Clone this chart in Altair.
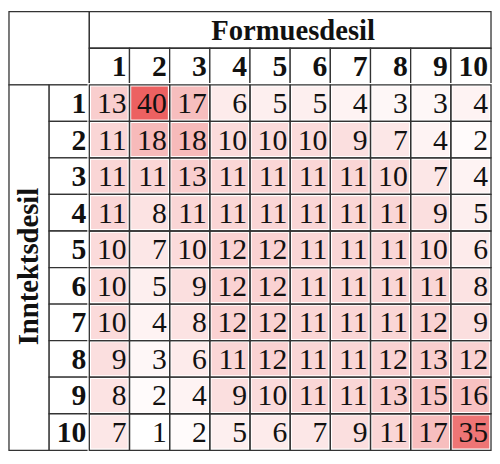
import altair as alt
import pandas as pd

col_labels = ["1", "2", "3", "4", "5", "6", "7", "8", "9", "10"]
row_labels = ["1", "2", "3", "4", "5", "6", "7", "8", "9", "10"]
col_title = "Formuesdesil"
row_title = "Inntektsdesil"

row1 = [13, 40, 17, 6, 5, 5, 4, 3, 3, 4]
row2 = [11, 18, 18, 10, 10, 10, 9, 7, 4, 2]
row3 = [11, 11, 13, 11, 11, 11, 11, 10, 7, 4]
row4 = [11, 8, 11, 11, 11, 11, 11, 11, 9, 5]
row5 = [10, 7, 10, 12, 12, 11, 11, 11, 10, 6]
row6 = [10, 5, 9, 12, 12, 11, 11, 11, 11, 8]
row7 = [10, 4, 8, 12, 12, 11, 11, 11, 12, 9]
row8 = [9, 3, 6, 11, 12, 11, 11, 12, 13, 12]
row9 = [8, 2, 4, 9, 10, 11, 11, 13, 15, 16]
row10 = [7, 1, 2, 5, 6, 7, 9, 11, 17, 35]
matrix = [row1, row2, row3, row4, row5, row6, row7, row8, row9, row10]

# grid: 12 columns x 12 rows (2 header columns, 2 header rows)
ncols = len(col_labels) + 2
nrows = len(row_labels) + 2

cells = []
for ri, row in enumerate(matrix):
    for ci, v in enumerate(row):
        cells.append({"x": ci + 2, "x2": ci + 3, "y": ri + 2, "y2": ri + 3,
                      "tx": ci + 3, "ty": ri + 2.5, "value": v, "label": str(v)})
cells = pd.DataFrame(cells)

hdr = [
    {"x": 0, "x2": 2, "y": 0, "y2": 2},
    {"x": 2, "x2": ncols, "y": 0, "y2": 1},
    {"x": 0, "x2": 1, "y": 2, "y2": nrows},
]
for ci in range(len(col_labels)):
    hdr.append({"x": ci + 2, "x2": ci + 3, "y": 1, "y2": 2})
for ri in range(len(row_labels)):
    hdr.append({"x": 1, "x2": 2, "y": ri + 2, "y2": ri + 3})
hdr = pd.DataFrame(hdr)

hdr_text = []
for ci, lab in enumerate(col_labels):
    hdr_text.append({"tx": ci + 3, "ty": 1.5, "label": lab})
for ri, lab in enumerate(row_labels):
    hdr_text.append({"tx": 2, "ty": ri + 2.5, "label": lab})
hdr_text = pd.DataFrame(hdr_text)

titles = pd.DataFrame([{"tx": (2 + ncols) / 2, "ty": 0.5, "label": col_title}])
titles_v = pd.DataFrame([{"tx": 0.5, "ty": (2 + nrows) / 2, "label": row_title}])

xs = alt.Scale(domain=[0, ncols], nice=False, zero=False)
ys = alt.Scale(domain=[0, nrows], nice=False, zero=False, reverse=True)

X = lambda f: alt.X(f, type="quantitative", scale=xs, axis=None)
Y = lambda f: alt.Y(f, type="quantitative", scale=ys, axis=None)

serif = "Liberation Serif"
grid_col = "#333333"

hdr_rects = alt.Chart(hdr).mark_rect(fill="white", stroke=grid_col, strokeWidth=1.3).encode(
    x=X("x"), x2="x2", y=Y("y"), y2="y2")

cell_fill = alt.Chart(cells).mark_rect(stroke="white", strokeWidth=3.5).encode(
    x=X("x"), x2="x2", y=Y("y"), y2="y2",
    color=alt.Color("value:Q", scale=alt.Scale(domain=[1, 40], range=["#ffffff", "#ec6161"],
                                               interpolate="rgb"), legend=None))

cell_grid = alt.Chart(cells).mark_rect(fill=None, stroke=grid_col, strokeWidth=1.3, filled=False).encode(
    x=X("x"), x2="x2", y=Y("y"), y2="y2")

cell_text = alt.Chart(cells).mark_text(font=serif, fontSize=30, align="right", baseline="middle",
                                       dx=-3, dy=1, color="#111111").encode(
    x=X("tx"), y=Y("ty"), text="label:N")

hdr_txt = alt.Chart(hdr_text).mark_text(font=serif, fontSize=30, fontWeight="bold", align="right",
                                        baseline="middle", dx=-3, dy=1, color="#111111").encode(
    x=X("tx"), y=Y("ty"), text="label:N")

title_h = alt.Chart(titles).mark_text(font=serif, fontSize=29, fontWeight="bold", align="center",
                                      baseline="middle", dy=1, dx=3, color="#111111").encode(
    x=X("tx"), y=Y("ty"), text="label:N")

title_v = alt.Chart(titles_v).mark_text(font=serif, fontSize=29, fontWeight="bold", align="center",
                                        baseline="middle", angle=270, dx=1, color="#111111").encode(
    x=X("tx"), y=Y("ty"), text="label:N")

chart = alt.layer(hdr_rects, cell_fill, cell_grid, cell_text, hdr_txt, title_h, title_v).properties(
    width=488, height=444, padding=1, autosize="none"
).configure_view(strokeWidth=0)

chart.save("out.html", embed_options={"renderer": "svg", "actions": False})
